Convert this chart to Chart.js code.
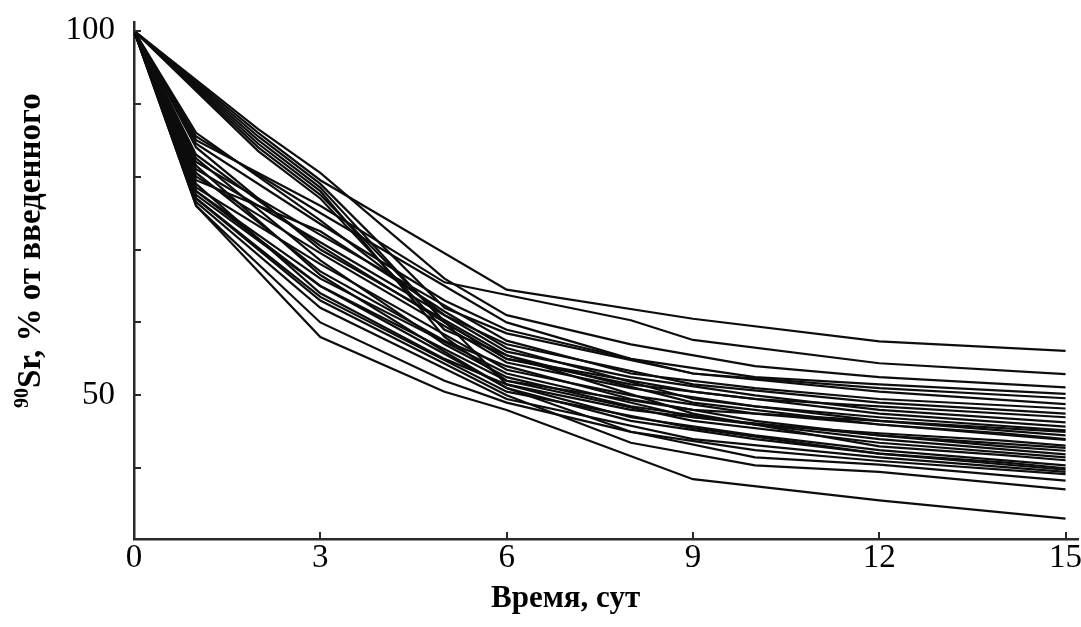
<!DOCTYPE html>
<html><head><meta charset="utf-8">
<script src="https://cdn.jsdelivr.net/npm/chart.js@4/dist/chart.umd.min.js"></script>
<style>html,body{margin:0;padding:0;background:#fff}canvas{display:block}</style>
</head><body>
<canvas id="c" width="1081" height="627"></canvas>
<script>
// sampling days (x); null = no measurement on that day for that series
const days = [0, 1, 2, 3, 5, 6, 8, 9, 10, 12, 14, 15];

const sA  = [100, null, 86,   79.5, null, 64.5, null, 60.5, null, 57.4, null, 56.1];
const sB  = [100, 85,   null, 76,   65.5, null, 60.3, 57.6, null, 54.4, null, 52.9];
const sU3 = [100, null, 86.5, 80.5, 66,   61,   57,   null, 54,   52.5, null, 51.1];
const sU4 = [100, null, 85.5, 79,   62,   58.5, null, 53,   null, 51,   null, 49.6];
const sU5 = [100, null, 85,   78.5, 60,   55,   51.5, null, 49.5, 48.5, null, 47];
const sU6 = [100, null, 84.5, 78,   58,   52,   null, 48,   null, 46.5, null, 45];
const sU7 = [100, null, 84,   77.5, null, 51.5, 48,   null, 46,   44.8, 43.8, 43.1];
const sU8 = [100, null, 83.5, 77,   59,   55.5, null, 47.5, null, 43,   41.8, 41.1];
const sL1 = [100, 85.5, null, 75,   null, 60,   55,   null, 52.5, 51.5, null, 50.2];
const sL2 = [100, 84.5, null, 73.5, 63,   59,   null, 53,   null, 50.5, null, 48.8];
const sL3 = [100, 82,   null, 72,   null, 57.5, 53,   null, 51,   49.5, null, 48.2];
const sL4 = [100, 86,   null, 74,   61,   57,   null, 51.5, null, 49,   48,   47.5];
const sL5 = [100, 81,   null, 71,   null, 56,   52.5, null, 50,   48,   null, 46.3];
const sL6 = [100, 83,   null, 70.5, 60,   55,   null, 50.5, null, 47.5, null, 45.7];
const sL7 = [100, 80,   null, 69.5, null, 54.5, 51,   null, 48.5, 47,   null, 45.2];
const sL8 = [100, 79.5, null, 72.5, 61.5, 56.5, null, 49.5, null, 46.5, null, 44.5];
const sL9 = [100, 78.5, null, 68,   null, 53.5, 50,   null, 47.5, 46,   44.8, 44];
const sL10 = [100, 84,  null, 70,   null, 55.5, null, 49,   null, 46,   null, 43.9];
const sL11 = [100, 80.5, null, 67,  57.5, 54,   49.5, null, 46.5, 44.5, null, 42.8];
const sL12 = [100, 78,  null, 66,   null, 53,   null, 47,   null, 44.5, 43,   42.4];
const sL13 = [100, 82.5, null, 68.5, 57,  52.5, 48.5, null, 46,   44,   null, 41.9];
const sL14 = [100, 77.5, null, 65,  null, 52,   null, 46.5, null, 43.5, null, 41.5];
const sL15 = [100, 79,  null, 64,   55,   51.5, 47,   null, 44.5, 42.5, null, 40.4];
const sL16 = [100, 77,  null, 63.5, null, 50.5, null, 45.5, null, 42,   40.8, 40];
const sL17 = [100, 81.5, null, 66.5, 56,  51,   46.5, null, 44,   42,   null, 39.8];
const sL18 = [100, 76.5, null, 62,  null, 49.5, null, 44,   null, 41.5, null, 39.5];
const sL19 = [100, 76,  null, 60,   52,   49,   45,   null, 42.5, 41,   null, 39.2];
const sX  = [100, 78,   null, 65,   null, 51,   45,   null, 41.5, 40.5, null, 38.3];
const sY  = [100, 77,   null, 63,   null, 50,   43.5, null, 40.4, 39.5, null, 37.1];
const sZ  = [100, 76,   null, 58,   50.5, 48,   null, 38.5, null, 35.6, null, 33.1];

const allSeries = [sA, sB, sU3, sU4, sU5, sU6, sU7, sU8, sL1, sL2, sL3, sL4, sL5, sL6, sL7, sL8, sL9,
  sL10, sL11, sL12, sL13, sL14, sL15, sL16, sL17, sL18, sL19, sX, sY, sZ];

const xTickValues = [0, 3, 6, 9, 12, 15];
const yTickValues = [40, 50, 60, 70, 80, 90, 100];
const yTickLabels = [50, 100];
const xTitle = 'Время, сут';
const yTitleSup = '90';
const yTitleMain = 'Sr, % от введенного';

const datasets = allSeries.map(vals => ({
  data: days.map((d, i) => ({ x: d, y: vals[i] })).filter(p => p.y !== null),
  borderColor: '#0d0d0d',
  borderWidth: 2.2,
  pointRadius: 0,
  tension: 0,
  fill: false
}));

const decor = {
  id: 'decor',
  afterDraw(chart) {
    const { ctx, scales: { x, y }, chartArea: a } = chart;
    ctx.save();
    ctx.strokeStyle = '#2a2a2a';
    ctx.lineWidth = 2;
    ctx.beginPath();
    y.ticks.forEach(t => { const py = Math.round(y.getPixelForValue(t.value)); ctx.moveTo(a.left, py); ctx.lineTo(a.left + 7, py); });
    x.ticks.forEach(t => { const px = Math.round(x.getPixelForValue(t.value)); ctx.moveTo(px, a.bottom); ctx.lineTo(px, a.bottom - 7); });
    ctx.stroke();
    ctx.fillStyle = '#000';
    ctx.textAlign = 'left';
    ctx.textBaseline = 'alphabetic';
    // y title (rotated)
    ctx.save();
    ctx.translate(40, 408);
    ctx.rotate(-Math.PI / 2);
    ctx.font = 'bold 20px "Liberation Serif"';
    ctx.fillText(yTitleSup, 0, -12);
    const w = ctx.measureText(yTitleSup).width;
    ctx.font = 'bold 33px "Liberation Serif"';
    ctx.fillText(yTitleMain, w, 0);
    ctx.restore();
    // x title
    ctx.font = 'bold 31px "Liberation Serif"';
    ctx.fillText(xTitle, 491, 607);
    ctx.restore();
  }
};

const tickFont = { family: '"Liberation Serif"', size: 33, lineHeight: 1 };

new Chart(document.getElementById('c'), {
  type: 'line',
  data: { datasets },
  plugins: [decor],
  options: {
    responsive: false,
    animation: false,
    layout: { padding: { left: 0, top: 22, right: 3, bottom: 0 } },
    plugins: { legend: { display: false }, tooltip: { enabled: false } },
    scales: {
      x: {
        type: 'linear', min: 0, max: 15.2,
        afterBuildTicks: s => { s.ticks = xTickValues.map(v => ({ value: v })); },
        afterFit: s => { s.height = 88; s.paddingLeft = 0; s.paddingRight = 0; },
        grid: { display: false, drawTicks: false },
        border: { display: true, color: '#2a2a2a', width: 2.5 },
        ticks: { color: '#000', font: tickFont, padding: 3, maxRotation: 0, autoSkip: false }
      },
      y: {
        type: 'linear', min: 30.3, max: 101.2,
        afterBuildTicks: s => { s.ticks = yTickValues.map(v => ({ value: v })); },
        afterFit: s => { s.width = 134; s.paddingTop = 0; s.paddingBottom = 0; },
        grid: { display: false, drawTicks: false },
        border: { display: true, color: '#2a2a2a', width: 2.5 },
        ticks: { color: '#000', font: tickFont, padding: 19, autoSkip: false,
          callback: v => yTickLabels.includes(v) ? String(v) : '' }
      }
    }
  }
});
</script>
</body></html>
